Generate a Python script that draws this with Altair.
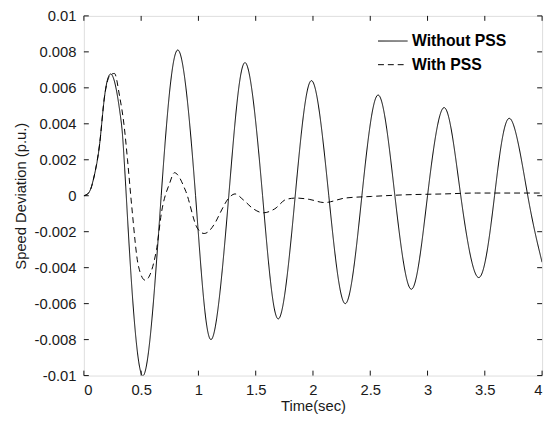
import altair as alt
import pandas as pd

# ---- data ----
series_names = ["Without PSS", "With PSS"]

time_without = [0, 0.05, 0.095, 0.138, 0.18, 0.229, 0.28, 0.324, 0.37, 0.51, 0.675, 0.823,
                0.975, 1.11, 1.265, 1.408, 1.56, 1.698, 1.845, 1.988, 2.138, 2.283,
                2.427, 2.57, 2.715, 2.86, 3.0, 3.146, 3.29, 3.448, 3.585, 3.718,
                3.875, 4.0]
dev_without = [0, 0.00024, 0.00124, 0.0029, 0.0055, 0.00676, 0.006, 0.0042, 0, -0.0100, 0, 0.0081,
               0, -0.0080, 0, 0.0074, 0, -0.00685, 0, 0.0064, 0, -0.0060,
               0, 0.0056, 0, -0.0052, 0, 0.0049, 0, -0.00455, 0, 0.0043,
               0, -0.0037]

time_with = [0, 0.05, 0.095, 0.138, 0.18, 0.229, 0.267, 0.31, 0.353, 0.381, 0.418, 0.476,
             0.535, 0.634, 0.677, 0.749, 0.79, 0.89, 0.99, 1.05, 1.15, 1.19, 1.265,
             1.32, 1.39, 1.48, 1.566, 1.666, 1.767, 1.853, 1.967, 2.1, 2.28, 2.51,
             2.80, 3.14, 3.43, 3.72, 4.0]
dev_with = [0, 0.00024, 0.00124, 0.0029, 0.0055, 0.0067, 0.0068, 0.0056, 0.0038, 0.002, -0.0006, -0.0039,
            -0.0047, -0.0030, -0.00095, 0.0007, 0.00128, 0.00024, -0.0018, -0.0021, -0.00146, -0.00095, -0.00013,
            0.0001, -0.00022, -0.00073, -0.00095, -0.00073, -0.0002, -0.00013, -0.0002, -0.00038, -0.00013, -0.00004,
            0.00005, 0.0001, 0.00015, 0.00015, 0.00015]

x_ticks = [0, 0.5, 1, 1.5, 2, 2.5, 3, 3.5, 4]
y_ticks = [-0.01, -0.008, -0.006, -0.004, -0.002, 0, 0.002, 0.004, 0.006, 0.008, 0.01]

FONT = "Liberation Sans"
TXT = "#1a1a1a"
X0, X1, Y0, Y1 = 0, 4, -0.01, 0.01
TICK_DX = 5 / 465 * (X1 - X0)   # 5 px tick length in data units
TICK_DY = 5 / 365 * (Y1 - Y0)

df_without = pd.DataFrame({"t": time_without, "v": dev_without, "s": series_names[0]})
df_with = pd.DataFrame({"t": time_with, "v": dev_with, "s": series_names[1]})
# inward tick marks on all four sides of the box (derived from the tick lists)
df_xt = pd.concat([
    pd.DataFrame({"t": x_ticks, "v": Y0, "v2": Y0 + TICK_DY}),
    pd.DataFrame({"t": x_ticks, "v": Y1, "v2": Y1 - TICK_DY}),
], ignore_index=True)
df_yt = pd.concat([
    pd.DataFrame({"v": y_ticks, "t": X0, "t2": X0 + TICK_DX}),
    pd.DataFrame({"v": y_ticks, "t": X1, "t2": X1 - TICK_DX}),
], ignore_index=True)

xs = alt.Scale(domain=[X0, X1], nice=False, zero=False)
ys = alt.Scale(domain=[Y0, Y1], nice=False, zero=False)
dash_scale = alt.Scale(domain=series_names, range=[[1, 0], [6, 4]])

x_axis = alt.Axis(
    values=x_ticks, title="Time(sec)", ticks=False, tickSize=0, domain=False,
    grid=False, labelPadding=7, labelExpr="format(datum.value, '~g')",
    labelFont=FONT, labelFontSize=15, labelColor=TXT,
    titleFont=FONT, titleFontSize=15, titleFontWeight="normal", titleColor=TXT,
    titlePadding=1)
y_axis = alt.Axis(
    values=y_ticks, title="Speed Deviation (p.u.)", ticks=False, tickSize=0,
    domain=False, grid=False, labelPadding=8,
    labelExpr="replace(format(datum.value, '~g'), '\u2212', '-')",
    labelFont=FONT, labelFontSize=15, labelColor=TXT,
    titleFont=FONT, titleFontSize=15, titleFontWeight="normal", titleColor=TXT,
    titlePadding=6)
legend = alt.Legend(orient="none", legendX=298, legendY=10, title=None,
                    symbolType="stroke", symbolSize=900, symbolStrokeWidth=1,
                    symbolStrokeColor="black", labelFont=FONT, labelFontSize=16,
                    labelFontWeight="bold", labelColor="black", labelOffset=4,
                    rowPadding=0)

solid = alt.Chart(df_without).mark_line(
    interpolate="natural", strokeWidth=1, color="black", clip=True
).encode(
    x=alt.X("t:Q", scale=xs, axis=x_axis),
    y=alt.Y("v:Q", scale=ys, axis=y_axis),
    strokeDash=alt.StrokeDash("s:N", scale=dash_scale, legend=legend),
)
dashed = alt.Chart(df_with).mark_line(
    interpolate="monotone", strokeWidth=1, color="black", clip=True
).encode(
    x=alt.X("t:Q", scale=xs, axis=x_axis),
    y=alt.Y("v:Q", scale=ys, axis=y_axis),
    strokeDash=alt.StrokeDash("s:N", scale=dash_scale, legend=legend),
)

TC = "#111"
ticks_x = alt.Chart(df_xt).mark_rule(color=TC, strokeWidth=1).encode(
    x=alt.X("t:Q", scale=xs, axis=x_axis),
    y=alt.Y("v:Q", scale=ys, axis=y_axis), y2="v2:Q")
ticks_y = alt.Chart(df_yt).mark_rule(color=TC, strokeWidth=1).encode(
    x=alt.X("t:Q", scale=xs, axis=x_axis), x2="t2:Q",
    y=alt.Y("v:Q", scale=ys, axis=y_axis))

chart = alt.layer(solid, dashed, ticks_x, ticks_y).properties(
    width=465, height=365,
    autosize=alt.AutoSizeParams(type="none"),
    padding={"left": 77, "top": 5, "right": 6, "bottom": 37},
).configure_view(stroke="#222", strokeWidth=1).configure(background="white")

chart.save("out.html", embed_options={"renderer": "svg", "actions": False})
